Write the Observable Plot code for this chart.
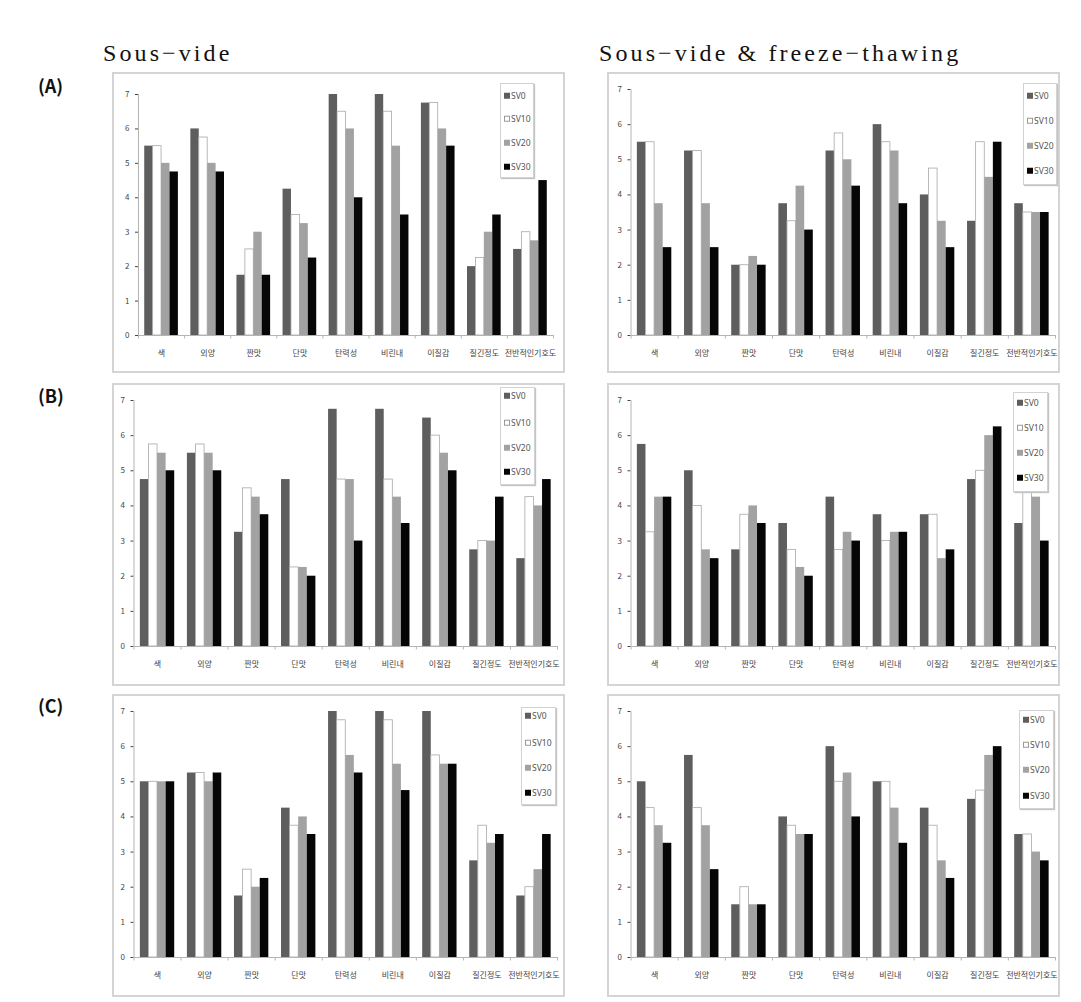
<!DOCTYPE html>
<html><head><meta charset="utf-8">
<script src="https://cdn.jsdelivr.net/npm/d3@7"></script>
<script src="https://cdn.jsdelivr.net/npm/@observablehq/plot@0.6"></script>
<style>
body{margin:0;background:#fff;}
#root{position:relative;width:1081px;height:1002px;overflow:hidden;background:#fff;}
.title{position:absolute;font-family:"Liberation Serif","DejaVu Serif",serif;font-size:24px;letter-spacing:3.1px;color:#111;white-space:nowrap;line-height:1;}
.rowlab{position:absolute;font-family:"Noto Sans CJK KR","Noto Sans",sans-serif;font-weight:700;font-size:18px;color:#111;line-height:1;}
.panel{position:absolute;box-sizing:border-box;border:2px solid #d4d4d4;}
.plot{position:absolute;}
.legend{position:absolute;box-sizing:border-box;border:1px solid #d2d2d2;box-shadow:1px 1px 1px #c4c4c4;background:#fff;font-family:"Noto Sans","DejaVu Sans",sans-serif;font-size:8.5px;color:#555;}
.entry{position:absolute;left:3px;display:flex;align-items:center;line-height:1;transform:translateY(-50%);}
.sw{width:6px;height:6px;margin-right:1px;box-sizing:border-box;}
</style></head>
<body><div id="root"></div>
<script>
const categories = ["색","외양","짠맛","단맛","탄력성","비린내","이질감","질긴정도","전반적인기호도"];
const series = ["SV0","SV10","SV20","SV30"];
const seriesFill = ["#5e5e5e","#ffffff","#a2a2a2","#060606"];
const yTicks = [0,1,2,3,4,5,6,7];
const columnTitles = ["Sous−vide","Sous−vide & freeze−thawing"];
const rowLabels = ["(A)","(B)","(C)"];

// values: one array per series (SV0, SV10, SV20, SV30), in category order
const sousVideA_SV0  = [5.5, 6.0, 1.75, 4.25, 7.0, 7.0, 6.75, 2.0, 2.5];
const sousVideA_SV10 = [5.5, 5.75, 2.5, 3.5, 6.5, 6.5, 6.75, 2.25, 3.0];
const sousVideA_SV20 = [5.0, 5.0, 3.0, 3.25, 6.0, 5.5, 6.0, 3.0, 2.75];
const sousVideA_SV30 = [4.75, 4.75, 1.75, 2.25, 4.0, 3.5, 5.5, 3.5, 4.5];

const freezeA_SV0  = [5.5, 5.25, 2.0, 3.75, 5.25, 6.0, 4.0, 3.25, 3.75];
const freezeA_SV10 = [5.5, 5.25, 2.0, 3.25, 5.75, 5.5, 4.75, 5.5, 3.5];
const freezeA_SV20 = [3.75, 3.75, 2.25, 4.25, 5.0, 5.25, 3.25, 4.5, 3.5];
const freezeA_SV30 = [2.5, 2.5, 2.0, 3.0, 4.25, 3.75, 2.5, 5.5, 3.5];

const sousVideB_SV0  = [4.75, 5.5, 3.25, 4.75, 6.75, 6.75, 6.5, 2.75, 2.5];
const sousVideB_SV10 = [5.75, 5.75, 4.5, 2.25, 4.75, 4.75, 6.0, 3.0, 4.25];
const sousVideB_SV20 = [5.5, 5.5, 4.25, 2.25, 4.75, 4.25, 5.5, 3.0, 4.0];
const sousVideB_SV30 = [5.0, 5.0, 3.75, 2.0, 3.0, 3.5, 5.0, 4.25, 4.75];

const freezeB_SV0  = [5.75, 5.0, 2.75, 3.5, 4.25, 3.75, 3.75, 4.75, 3.5];
const freezeB_SV10 = [3.25, 4.0, 3.75, 2.75, 2.75, 3.0, 3.75, 5.0, 4.5];
const freezeB_SV20 = [4.25, 2.75, 4.0, 2.25, 3.25, 3.25, 2.5, 6.0, 4.25];
const freezeB_SV30 = [4.25, 2.5, 3.5, 2.0, 3.0, 3.25, 2.75, 6.25, 3.0];

const sousVideC_SV0  = [5.0, 5.25, 1.75, 4.25, 7.0, 7.0, 7.0, 2.75, 1.75];
const sousVideC_SV10 = [5.0, 5.25, 2.5, 3.75, 6.75, 6.75, 5.75, 3.75, 2.0];
const sousVideC_SV20 = [5.0, 5.0, 2.0, 4.0, 5.75, 5.5, 5.5, 3.25, 2.5];
const sousVideC_SV30 = [5.0, 5.25, 2.25, 3.5, 5.25, 4.75, 5.5, 3.5, 3.5];

const freezeC_SV0  = [5.0, 5.75, 1.5, 4.0, 6.0, 5.0, 4.25, 4.5, 3.5];
const freezeC_SV10 = [4.25, 4.25, 2.0, 3.75, 5.0, 5.0, 3.75, 4.75, 3.5];
const freezeC_SV20 = [3.75, 3.75, 1.5, 3.5, 5.25, 4.25, 2.75, 5.75, 3.0];
const freezeC_SV30 = [3.25, 2.5, 1.5, 3.5, 4.0, 3.25, 2.25, 6.0, 2.75];

// layout (page pixels): box [left, top, width, height], margins [top, right, bottom, left], legend [left, top, w, h], entry centers (y)
const layout = [
  {vals:[sousVideA_SV0,sousVideA_SV10,sousVideA_SV20,sousVideA_SV30], box:[112,72,453,301], m:[22,12,38,26], legend:[500,83,34,95], ent:[95,118,142,166]},
  {vals:[freezeA_SV0,freezeA_SV10,freezeA_SV20,freezeA_SV30], box:[607,72,453,301], m:[17,5,38,23.5], legend:[1023,83,34,102], ent:[95,120,145,170]},
  {vals:[sousVideB_SV0,sousVideB_SV10,sousVideB_SV20,sousVideB_SV30], box:[112,383,453,303], m:[17,8,40,21.5], legend:[500,387,35,98], ent:[395,422,447,471]},
  {vals:[freezeB_SV0,freezeB_SV10,freezeB_SV20,freezeB_SV30], box:[607,383,453,303], m:[17,5,40,23.5], legend:[1013,392,35,100], ent:[402,427,452,477]},
  {vals:[sousVideC_SV0,sousVideC_SV10,sousVideC_SV20,sousVideC_SV30], box:[112,694,453,303], m:[17,8,40,21.5], legend:[521,707,35,98], ent:[715,742,767,792]},
  {vals:[freezeC_SV0,freezeC_SV10,freezeC_SV20,freezeC_SV30], box:[607,694,453,303], m:[17,5,40,23.5], legend:[1019,710,35,99], ent:[719,744,769,795]}
];

const root = document.getElementById("root");
function add(cls, css, text){
  const d = document.createElement("div");
  d.className = cls;
  Object.assign(d.style, css);
  if (text != null) d.textContent = text;
  root.appendChild(d);
  return d;
}

add("title", {left:"103px", top:"41px"}, columnTitles[0]);
add("title", {left:"599px", top:"41px"}, columnTitles[1]);
add("rowlab", {left:"38px", top:"76px"}, rowLabels[0]);
add("rowlab", {left:"38px", top:"386px"}, rowLabels[1]);
add("rowlab", {left:"38px", top:"696px"}, rowLabels[2]);

const gridColor = "#b4b4b4";
layout.forEach(cfg => {
  const [bx, by, bw, bh] = cfg.box;
  const [mt, mr, mb, ml] = cfg.m;
  add("panel", {left:bx+"px", top:by+"px", width:bw+"px", height:bh+"px"});
  const step = (bw - ml - mr) / categories.length;
  const groupPad = 0.135;
  const barFrac = (1 - 2 * groupPad) / series.length;
  const marks = [];
  series.forEach((s, i) => {
    const rows = categories.map((c, j) => ({cat: c, series: s, value: cfg.vals[i][j]}));
    marks.push(Plot.barY(rows, {
      x: "cat", y: "value",
      fill: seriesFill[i],
      stroke: i === 1 ? "#a8a8a8" : "none",
      strokeWidth: 0.8,
      insetLeft: step * (groupPad + barFrac * i),
      insetRight: step * (1 - groupPad - barFrac * (i + 1))
    }));
  });
  marks.push(Plot.ruleY([0], {stroke: gridColor}));
  marks.push(Plot.ruleX([categories[0]], {x: d => d, y1: 0, y2: 7, dx: -step / 2, stroke: gridColor}));
  marks.push(Plot.ruleX(categories, {x: d => d, y1: 0, y2: -0.1, dx: -step / 2, stroke: gridColor}));
  marks.push(Plot.ruleX([categories[categories.length - 1]], {x: d => d, y1: 0, y2: -0.1, dx: step / 2, stroke: gridColor}));
  const svg = Plot.plot({
    width: bw, height: bh,
    marginTop: mt, marginRight: mr, marginBottom: mb, marginLeft: ml,
    style: {background: "transparent", fontFamily: "'Noto Sans CJK KR','Noto Sans',sans-serif", fontSize: "8px", color: "#444", overflow: "visible"},
    x: {type: "band", domain: categories, padding: 0, round: false, tickSize: 0, tickPadding: 15, label: null},
    y: {domain: [0, 7], ticks: yTicks, tickFormat: d => String(d), tickSize: 3, tickPadding: 6, label: null},
    marks
  });
  const wrap = add("plot", {left: bx + "px", top: by + "px"});
  wrap.appendChild(svg);
  const [lx, ly, lw, lh] = cfg.legend;
  const lg = add("legend", {left: lx + "px", top: ly + "px", width: lw + "px", height: lh + "px"});
  series.forEach((s, i) => {
    const e = document.createElement("div");
    e.className = "entry";
    e.style.top = (cfg.ent[i] - ly) + "px";
    const sw = document.createElement("div");
    sw.className = "sw";
    sw.style.background = seriesFill[i];
    if (i === 1) sw.style.border = "1px solid #999";
    const t = document.createElement("span");
    t.textContent = s;
    e.appendChild(sw); e.appendChild(t);
    lg.appendChild(e);
  });
});
</script>
</body></html>
